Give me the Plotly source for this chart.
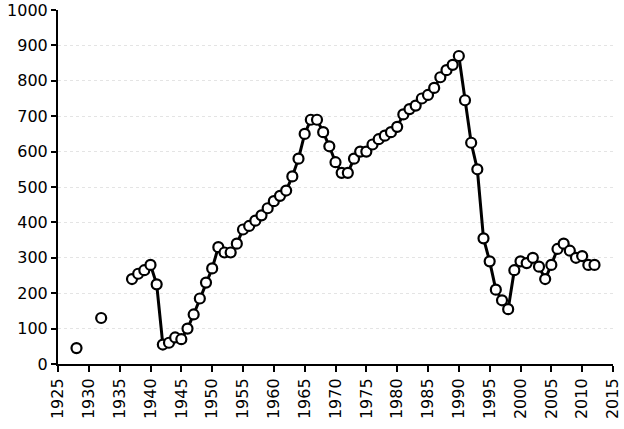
import plotly.graph_objects as go

years = [1928, 1929, 1930, 1931, 1932, 1933, 1934, 1935, 1936] + list(range(1937, 2013))
values = [45, None, None, None, 130, None, None, None, None,
          240, 255, 265, 280, 225, 55, 60, 75, 70, 100,
          140, 185, 230, 270, 330, 315, 315, 340, 380, 390,
          405, 420, 440, 460, 475, 490, 530, 580, 650, 690,
          690, 655, 615, 570, 540, 540, 580, 600, 600, 620,
          635, 645, 655, 670, 705, 720, 730, 750, 760, 780,
          810, 830, 845, 870, 745, 625, 550, 355, 290, 210,
          180, 155, 265, 290, 285, 300, 275, 240, 280, 325,
          340, 320, 300, 305, 280, 280]

x_ticks = list(range(1925, 2016, 5))
y_ticks = list(range(0, 1001, 100))

fig = go.Figure()
fig.add_trace(go.Scatter(
    x=years, y=values, mode="lines+markers", connectgaps=False,
    line=dict(color="black", width=3),
    marker=dict(symbol="circle", size=10, color="white",
                line=dict(color="black", width=2.2)),
    showlegend=False,
))

font = dict(family="DejaVu Sans", size=16, color="black")
fig.update_layout(
    width=624, height=429,
    margin=dict(l=58, r=11, t=10, b=65, autoexpand=False),
    paper_bgcolor="white", plot_bgcolor="white",
    font=font,
    xaxis=dict(range=[1925, 2015], tickvals=x_ticks, tickangle=-90,
               showline=True, linecolor="black", linewidth=2,
               ticks="outside", tickcolor="black", ticklen=6, tickwidth=2,
               showgrid=False, zeroline=False, tickfont=font, automargin=False,
               ticklabeloverflow="allow"),
    yaxis=dict(range=[0, 1000], tickvals=y_ticks,
               showline=True, linecolor="black", linewidth=2,
               ticks="outside", tickcolor="black", ticklen=5, tickwidth=2,
               showgrid=True, gridcolor="#e4e4e4", griddash="dot", gridwidth=1,
               zeroline=False, tickfont=font, automargin=False,
               ticklabeloverflow="allow"),
)

fig.write_html("out.html", config={"displayModeBar": False},
               post_script="document.body.style.margin='0';")
